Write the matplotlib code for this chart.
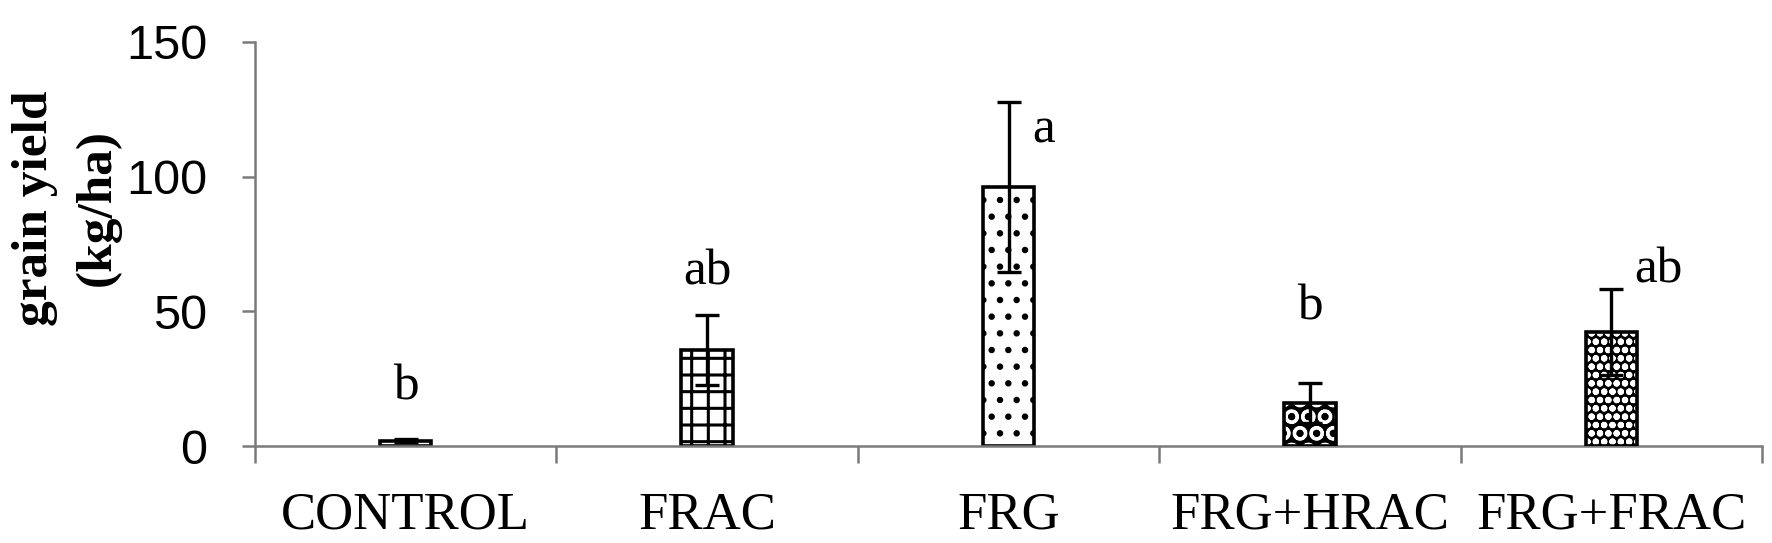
import matplotlib
matplotlib.use("Agg")
import matplotlib.pyplot as plt
import numpy as np

# data
treatments = ["CONTROL", "FRAC", "FRG", "FRG+HRAC", "FRG+FRAC"]
yield_mean = [2.0, 35.6, 96.2, 16.0, 42.3]
yield_err = [0.5, 13.0, 31.5, 7.5, 16.0]
letters = ["b", "ab", "a", "b", "ab"]

# where the significance letters sit (x offset from bar, y in data units)
letter_dx = [0.0, 0.0, 0.115, 0.0, 0.155]
letter_y = [22.0, 64.6, 117.3, 51.6, 65.4]

plt.rcParams["hatch.linewidth"] = 2.2

fig = plt.figure(figsize=(17.72, 5.43), dpi=100)
ax = fig.add_axes([0.1439, 0.1786, 0.8505, 0.7441])

x = np.arange(len(treatments))
w = 0.17
axis_grey = "#7a7a7a"

# fill patterns (white marks on dark ground for the last two)
ax.bar(x[0], yield_mean[0], w, color="white", edgecolor="black", lw=2.6, zorder=2)
ax.bar(x[1], yield_mean[1], w, color="white", edgecolor="black", hatch="+", lw=2.6, zorder=2)
ax.bar(x[2], yield_mean[2], w, color="white", edgecolor="black", hatch=".", lw=2.6, zorder=2)
ax.bar(x[3], yield_mean[3], w, color="black", edgecolor="white", hatch="O", lw=0, zorder=2)
ax.bar(x[4], yield_mean[4], w, color="black", edgecolor="white", hatch="oo", lw=0, zorder=2)
ax.bar(x[3:], yield_mean[3:], w, color="none", edgecolor="black", lw=2.6, zorder=3)

ax.errorbar(x, yield_mean, yerr=yield_err, fmt="none", ecolor="black",
            elinewidth=2.4, capsize=8.5, capthick=2.4, zorder=4)

for i, lab in enumerate(letters):
    ax.text(x[i] + letter_dx[i], letter_y[i], lab, ha="center", va="center",
            fontsize=37, family="Liberation Serif")

ax.set_xlim(-0.5, len(treatments) - 0.5)
ax.set_ylim(0, 150)
ax.set_yticks([0, 50, 100, 150])
ax.tick_params(axis="y", length=9.5, width=1.8, color=axis_grey, pad=25,
               labelsize=35)
for t in ax.get_yticklabels():
    t.set_family("Liberation Sans")

ax.set_xticks(x)
ax.set_xticklabels(treatments, fontsize=38, family="Liberation Serif")
ax.tick_params(axis="x", which="major", length=0, pad=33)
ax.set_xticks(np.arange(len(treatments) + 1) - 0.5, minor=True)
ax.tick_params(axis="x", which="minor", length=12, width=1.8, color=axis_grey)

for side in ["top", "right"]:
    ax.spines[side].set_visible(False)
for side in ["left", "bottom"]:
    ax.spines[side].set_color(axis_grey)
    ax.spines[side].set_linewidth(1.8)

fig.text(0.0375, 1 - 208 / 543, "grain yield\n(kg/ha)", rotation=90,
         ha="center", va="center", fontsize=37, fontweight="bold",
         family="Liberation Serif", linespacing=1.45)

fig.savefig("out.png", dpi=100)
